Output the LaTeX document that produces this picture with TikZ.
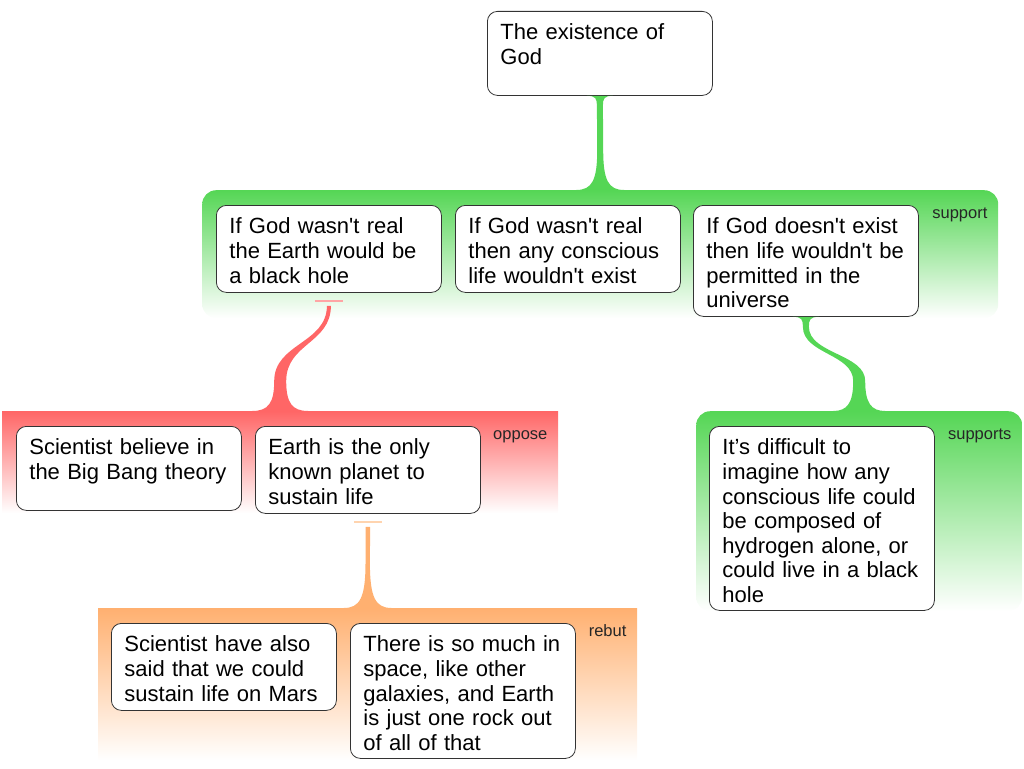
\documentclass[tikz,border=0pt]{standalone}
\usepackage{fontspec}
\setmainfont{Liberation Sans}
\usetikzlibrary{calc}
\definecolor{grn}{RGB}{85,214,85}
\definecolor{rd}{RGB}{255,102,102}
\definecolor{rdbar}{RGB}{255,165,165}
\definecolor{org}{RGB}{255,176,112}
\definecolor{orgbar}{RGB}{255,212,175}
\begin{document}
\begin{tikzpicture}[x=1pt,y=-1pt,card/.style={draw=black!80,line width=0.8pt,fill=white,
					rounded corners=10pt,anchor=north west,align=left,text width=199pt,inner xsep=13pt,
					inner ysep=0pt,text height=28.5pt,font=\fontsize{22pt}{24.6pt}\selectfont},
					grp/.style={anchor=north west,inner sep=0pt},lbl/.style={anchor=base east,
					font=\fontsize{16.5pt}{19pt}\selectfont,text=black!85}]
		\useasboundingbox (0,0) rectangle (1024,768);
		% groups
		\node[grp,rounded corners=14pt,top color=grn,bottom color=white,minimum width=796pt,minimum height=128pt] (gsup) at (202,190) {};
		\node[grp,top color=rd,bottom color=white,minimum width=556pt,minimum height=102pt] (gopp) at (2,411) {};
		\node[grp,top color=org,bottom color=white,minimum width=539pt,minimum height=152pt] (greb) at (98,608) {};
		\node[grp,rounded corners=14pt,top color=grn,bottom color=white,minimum width=326pt,minimum height=200pt] (gsups) at (696,411) {};
		\node[lbl] (lsup) at ($(gsup.north east)+(-7.5,28.5)$) {support};
		\node[lbl] (lopp) at ($(gopp.north east)+(-7.5,28.5)$) {oppose};
		\node[lbl] (lreb) at ($(greb.north east)+(-7.5,28.5)$) {rebut};
		\node[lbl] (lsups) at ($(gsups.north east)+(-7.5,28.5)$) {supports};
		% cards
		\node[card,text depth=55.5pt] (top) at (487,11) {The existence of\\God};
		\node[card,text depth=58.5pt] (b1) at (216,205) {If God wasn\textquotesingle t real\\the Earth would be\\a black hole};
		\node[card,text depth=58.5pt] (b2) at (455,205) {If God wasn\textquotesingle t real\\then any conscious\\life wouldn\textquotesingle t exist};
		\node[card,text depth=82.5pt] (b3) at (693,205) {If God doesn\textquotesingle t exist\\then life wouldn\textquotesingle t be\\permitted in the\\universe};
		\node[card,text depth=55.5pt] (o1) at (16,426) {Scientist believe in\\the Big Bang theory};
		\node[card,text depth=58.5pt] (o2) at (255,426) {Earth is the only\\known planet to\\sustain life};
		\node[card,text depth=155.5pt] (s1) at (709,426) {It’s difficult to\\imagine how any\\conscious life could\\be composed of\\hydrogen alone, or\\could live in a black\\hole};
		\node[card,text depth=58.5pt] (r1) at (111,623) {Scientist have also\\said that we could\\sustain life on Mars};
		\node[card,text depth=106.5pt] (r2) at (350,623) {There is so much in\\space, like other\\galaxies, and Earth\\is just one rock out\\of all of that};
		% connectors
		\fill[grn] let \p1=(top.south), \p2=(gsup.north) in
			(\x1-13pt,\y1) .. controls (\x1-4pt,\y1) and (\x1-3pt,\y1-3pt) .. (\x1-3pt,\y1-10pt)
			.. controls (\x1-3pt,{0.5*(\y1)+0.5*(\y2)+15pt}) and (\x2-3pt,{0.5*(\y1)+0.5*(\y2)+15pt}) .. (\x2-3pt,\y2+40pt)
			.. controls (\x2-3pt,\y2+10pt) and (\x2-8pt,\y2) .. (\x2-24pt,\y2)
			-- (\x2+24pt,\y2)
			.. controls (\x2+8pt,\y2) and (\x2+3pt,\y2+10pt) .. (\x2+3pt,\y2+40pt)
			.. controls (\x2+3pt,{0.5*(\y1)+0.5*(\y2)+15pt}) and (\x1+3pt,{0.5*(\y1)+0.5*(\y2)+15pt}) .. (\x1+3pt,\y1-10pt)
			.. controls (\x1+3pt,\y1-3pt) and (\x1+4pt,\y1) .. (\x1+13pt,\y1) -- cycle;
		\fill[grn] let \p1=(b3.south), \p2=(gsups.north) in
			(\x1-13pt,\y1) .. controls (\x1-4pt,\y1) and (\x1-3pt,\y1-3pt) .. (\x1-3pt,\y1-10pt)
			.. controls (\x1-3pt,{0.5*(\y1)+0.5*(\y2)+10pt}) and (\x2-6pt,{0.5*(\y1)+0.5*(\y2)+10pt}) .. (\x2-6pt,\y2+30pt)
			.. controls (\x2-6pt,\y2+8pt) and (\x2-12pt,\y2) .. (\x2-26pt,\y2)
			-- (\x2+26pt,\y2)
			.. controls (\x2+12pt,\y2) and (\x2+6pt,\y2+8pt) .. (\x2+6pt,\y2+30pt)
			.. controls (\x2+6pt,{0.5*(\y1)+0.5*(\y2)+10pt}) and (\x1+3pt,{0.5*(\y1)+0.5*(\y2)+10pt}) .. (\x1+3pt,\y1-10pt)
			.. controls (\x1+3pt,\y1-3pt) and (\x1+4pt,\y1) .. (\x1+13pt,\y1) -- cycle;
		\draw[rdbar,line width=2.5pt] ($(b1.south)+(-14,8)$) -- ($(b1.south)+(14,8)$);
		\fill[rd] let \p1=($(b1.south)+(0,13)$), \p2=(gopp.north) in
			(\x1-2pt,\y1) .. controls (\x1-2pt,{0.5*(\y1)+0.5*(\y2)+15pt}) and (\x2-6pt,{0.5*(\y1)+0.5*(\y2)+15pt}) .. (\x2-6pt,\y2+30pt)
			.. controls (\x2-6pt,\y2+8pt) and (\x2-12pt,\y2) .. (\x2-28pt,\y2)
			-- (\x2+28pt,\y2)
			.. controls (\x2+12pt,\y2) and (\x2+6pt,\y2+8pt) .. (\x2+6pt,\y2+30pt)
			.. controls (\x2+6pt,{0.5*(\y1)+0.5*(\y2)+15pt}) and (\x1+2pt,{0.5*(\y1)+0.5*(\y2)+15pt}) .. (\x1+2pt,\y1) -- cycle;
		\draw[orgbar,line width=2.5pt] ($(o2.south)+(-14,8)$) -- ($(o2.south)+(14,8)$);
		\fill[org] let \p1=($(o2.south)+(0,13)$), \p2=(greb.north) in
			(\x1-2.2pt,\y1) -- (\x2-2.2pt,\y2+45pt)
			.. controls (\x2-2.2pt,\y2+10pt) and (\x2-8pt,\y2) .. (\x2-24pt,\y2)
			-- (\x2+24pt,\y2)
			.. controls (\x2+8pt,\y2) and (\x2+2.2pt,\y2+10pt) .. (\x2+2.2pt,\y2+45pt)
			-- (\x1+2.2pt,\y1) -- cycle;
	\end{tikzpicture}
\end{document}
